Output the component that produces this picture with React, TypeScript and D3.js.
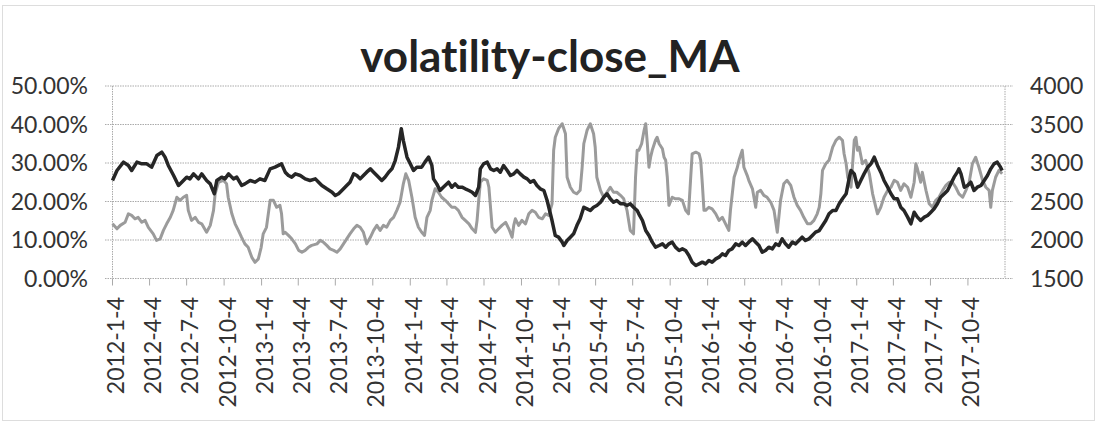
import * as d3 from "d3";

// quarter labels on the category axis
const xTickLabels = [
  "2012-1-4", "2012-4-4", "2012-7-4", "2012-10-4",
  "2013-1-4", "2013-4-4", "2013-7-4", "2013-10-4",
  "2014-1-4", "2014-4-4", "2014-7-4", "2014-10-4",
  "2015-1-4", "2015-4-4", "2015-7-4", "2015-10-4",
  "2016-1-4", "2016-4-4", "2016-7-4", "2016-10-4",
  "2017-1-4", "2017-4-4", "2017-7-4", "2017-10-4",
];
const leftTicks = [0, 10, 20, 30, 40, 50];
const rightTicks = [1500, 2000, 2500, 3000, 3500, 4000];

// volatility, in percent (left axis)
const volatility: [string, number][] = [
  ["2012-01-04", 14.2], ["2012-01-15", 12.9], ["2012-01-23", 13.8], ["2012-02-04", 14.6],
  ["2012-02-12", 16.8], ["2012-02-20", 16.4], ["2012-02-28", 15.5], ["2012-03-07", 15.9],
  ["2012-03-16", 14.6], ["2012-03-24", 15.1], ["2012-04-01", 13.3], ["2012-04-13", 11.6],
  ["2012-04-21", 9.9], ["2012-04-30", 10.3], ["2012-05-08", 12.5], ["2012-05-16", 14.2],
  ["2012-05-25", 15.9], ["2012-06-01", 17.7], ["2012-06-10", 21.1], ["2012-06-18", 20.3],
  ["2012-06-26", 21.1], ["2012-07-04", 21.6], ["2012-07-08", 17.7], ["2012-07-16", 15.1],
  ["2012-07-25", 15.9], ["2012-08-02", 14.6], ["2012-08-10", 14.2], ["2012-08-22", 12.0],
  ["2012-08-31", 13.8], ["2012-09-08", 17.7], ["2012-09-12", 22.0], ["2012-09-20", 25.0],
  ["2012-10-02", 25.5], ["2012-10-10", 24.6], ["2012-10-14", 21.1], ["2012-10-23", 16.8],
  ["2012-10-31", 14.2], ["2012-11-08", 12.5], ["2012-11-16", 10.7], ["2012-11-24", 9.0],
  ["2012-12-02", 8.1], ["2012-12-11", 5.5], ["2012-12-19", 4.2], ["2012-12-27", 5.1],
  ["2013-01-03", 8.1], ["2013-01-08", 11.6], ["2013-01-16", 13.3], ["2013-01-25", 20.3],
  ["2013-02-02", 20.3], ["2013-02-10", 18.5], ["2013-02-18", 19.0], ["2013-02-22", 16.8],
  ["2013-02-26", 11.6], ["2013-03-03", 12.0], ["2013-03-11", 11.2], ["2013-03-19", 10.3],
  ["2013-03-28", 9.0], ["2013-04-05", 7.3], ["2013-04-13", 6.8], ["2013-04-21", 7.3],
  ["2013-04-29", 8.1], ["2013-05-07", 8.6], ["2013-05-20", 9.0], ["2013-05-28", 9.9],
  ["2013-06-05", 9.4], ["2013-06-13", 8.6], ["2013-06-21", 7.7], ["2013-06-30", 7.3],
  ["2013-07-08", 6.8], ["2013-07-16", 7.7], ["2013-07-24", 9.0], ["2013-08-01", 10.3],
  ["2013-08-09", 11.6], ["2013-08-18", 12.9], ["2013-08-26", 13.8], ["2013-09-03", 13.3],
  ["2013-09-11", 12.0], ["2013-09-19", 9.0], ["2013-09-28", 10.7], ["2013-10-06", 12.5],
  ["2013-10-14", 13.8], ["2013-10-22", 12.5], ["2013-10-30", 13.8], ["2013-11-07", 13.3],
  ["2013-11-16", 15.1], ["2013-11-24", 15.9], ["2013-12-02", 17.7], ["2013-12-10", 19.8],
  ["2013-12-18", 24.6], ["2013-12-24", 27.2], ["2013-12-31", 25.5], ["2014-01-08", 21.1],
  ["2014-01-16", 15.9], ["2014-01-24", 13.3], ["2014-02-01", 12.0], ["2014-02-08", 11.2],
  ["2014-02-14", 15.9], ["2014-02-22", 17.7], ["2014-02-26", 20.3], ["2014-03-06", 23.3],
  ["2014-03-14", 22.4], ["2014-03-22", 21.1], ["2014-03-31", 20.3], ["2014-04-08", 19.4],
  ["2014-04-16", 18.5], ["2014-04-24", 18.5], ["2014-05-02", 17.7], ["2014-05-11", 15.9],
  ["2014-05-19", 15.1], ["2014-05-28", 14.2], ["2014-06-05", 12.9], ["2014-06-13", 12.0],
  ["2014-06-17", 15.1], ["2014-06-21", 20.3], ["2014-06-25", 25.0], ["2014-07-03", 25.9],
  ["2014-07-12", 25.5], ["2014-07-16", 23.7], ["2014-07-20", 18.5], ["2014-07-24", 13.3],
  ["2014-08-01", 12.0], ["2014-08-09", 12.9], ["2014-08-17", 13.8], ["2014-08-26", 14.6],
  ["2014-09-03", 12.9], ["2014-09-11", 10.7], ["2014-09-15", 13.8], ["2014-09-19", 15.5],
  ["2014-09-27", 13.8], ["2014-10-05", 15.1], ["2014-10-14", 14.2], ["2014-10-22", 16.8],
  ["2014-10-30", 17.7], ["2014-11-07", 17.2], ["2014-11-15", 15.9], ["2014-11-24", 15.5],
  ["2014-12-02", 16.8], ["2014-12-10", 16.4], ["2014-12-18", 19.4], ["2014-12-22", 33.3],
  ["2014-12-26", 36.7], ["2015-01-03", 38.9], ["2015-01-12", 40.2], ["2015-01-20", 37.6],
  ["2015-01-24", 26.3], ["2015-02-01", 23.7], ["2015-02-09", 22.4], ["2015-02-17", 22.0],
  ["2015-02-25", 22.9], ["2015-03-02", 28.9], ["2015-03-06", 35.0], ["2015-03-14", 38.5],
  ["2015-03-22", 40.2], ["2015-03-30", 37.6], ["2015-04-03", 34.1], ["2015-04-07", 26.3],
  ["2015-04-16", 22.9], ["2015-04-24", 21.1], ["2015-05-02", 22.4], ["2015-05-10", 23.7],
  ["2015-05-18", 22.4], ["2015-05-26", 22.4], ["2015-06-04", 21.6], ["2015-06-12", 20.7],
  ["2015-06-20", 17.7], ["2015-06-28", 12.5], ["2015-07-06", 11.6], ["2015-07-11", 26.3],
  ["2015-07-15", 33.3], ["2015-07-19", 33.3], ["2015-07-26", 35.0], ["2015-08-01", 38.5],
  ["2015-08-05", 40.2], ["2015-08-09", 35.0], ["2015-08-13", 28.9], ["2015-08-17", 31.5],
  ["2015-08-21", 33.3], ["2015-08-29", 35.9], ["2015-09-02", 36.7], ["2015-09-07", 35.0],
  ["2015-09-15", 33.7], ["2015-09-19", 31.5], ["2015-09-23", 30.7], ["2015-09-27", 26.3],
  ["2015-10-01", 19.0], ["2015-10-09", 21.1], ["2015-10-17", 20.7], ["2015-10-26", 20.7],
  ["2015-11-03", 20.3], ["2015-11-11", 17.7], ["2015-11-18", 16.8], ["2015-11-23", 25.5],
  ["2015-11-27", 32.4], ["2015-12-06", 32.8], ["2015-12-14", 32.4], ["2015-12-18", 30.7],
  ["2015-12-22", 24.6], ["2015-12-26", 17.7], ["2015-12-30", 17.7], ["2016-01-07", 18.5],
  ["2016-01-15", 18.1], ["2016-01-24", 16.8], ["2016-02-01", 15.1], ["2016-02-09", 15.9],
  ["2016-02-17", 14.2], ["2016-02-25", 12.5], ["2016-02-29", 17.7], ["2016-03-09", 26.3],
  ["2016-03-17", 28.9], ["2016-03-21", 30.7], ["2016-03-25", 32.0], ["2016-03-29", 33.3],
  ["2016-04-02", 28.9], ["2016-04-10", 26.8], ["2016-04-14", 25.5], ["2016-04-23", 23.3],
  ["2016-05-01", 18.5], ["2016-05-05", 22.4], ["2016-05-13", 22.9], ["2016-05-21", 21.6],
  ["2016-05-29", 21.1], ["2016-06-07", 19.8], ["2016-06-15", 17.7], ["2016-06-23", 12.0],
  ["2016-07-01", 20.3], ["2016-07-09", 24.6], ["2016-07-17", 25.5], ["2016-07-26", 24.2],
  ["2016-08-03", 21.1], ["2016-08-11", 19.0], ["2016-08-19", 17.7], ["2016-08-27", 15.9],
  ["2016-09-05", 14.2], ["2016-09-13", 14.2], ["2016-09-21", 15.1], ["2016-09-29", 16.8],
  ["2016-10-04", 18.5], ["2016-10-08", 22.0], ["2016-10-12", 28.1], ["2016-10-20", 29.8],
  ["2016-10-28", 30.7], ["2016-11-06", 34.1], ["2016-11-14", 35.9], ["2016-11-22", 36.7],
  ["2016-11-30", 35.9], ["2016-12-04", 32.4], ["2016-12-09", 29.8], ["2016-12-13", 26.3],
  ["2016-12-21", 23.7], ["2016-12-25", 29.8], ["2016-12-29", 35.9], ["2017-01-02", 36.7],
  ["2017-01-06", 33.3], ["2017-01-10", 34.1], ["2017-01-18", 29.8], ["2017-01-26", 30.7],
  ["2017-02-04", 27.2], ["2017-02-12", 22.0], ["2017-02-20", 18.5], ["2017-02-24", 16.8],
  ["2017-03-04", 18.5], ["2017-03-12", 21.1], ["2017-03-21", 22.9], ["2017-03-29", 23.7],
  ["2017-04-06", 25.5], ["2017-04-14", 25.0], ["2017-04-22", 22.9], ["2017-04-30", 24.6],
  ["2017-05-09", 23.7], ["2017-05-17", 21.1], ["2017-05-25", 25.0], ["2017-05-29", 29.8],
  ["2017-06-02", 28.5], ["2017-06-10", 25.0], ["2017-06-14", 27.6], ["2017-06-23", 22.9],
  ["2017-07-01", 19.4], ["2017-07-09", 18.5], ["2017-07-17", 20.3], ["2017-07-25", 21.1],
  ["2017-08-03", 22.9], ["2017-08-11", 24.2], ["2017-08-19", 25.0], ["2017-08-27", 25.0],
  ["2017-09-04", 23.7], ["2017-09-12", 22.0], ["2017-09-21", 21.1], ["2017-09-29", 22.9],
  ["2017-10-07", 25.0], ["2017-10-15", 29.8], ["2017-10-23", 31.5], ["2017-10-31", 28.9],
  ["2017-11-09", 25.5], ["2017-11-17", 23.7], ["2017-11-25", 22.9], ["2017-11-29", 18.5],
  ["2017-12-03", 22.9], ["2017-12-11", 26.3], ["2017-12-19", 28.1], ["2017-12-27", 27.2],
];

// close moving average (right axis)
const closeMA: [string, number][] = [
  ["2012-01-04", 2773], ["2012-01-15", 2903], ["2012-01-31", 3011], ["2012-02-12", 2968],
  ["2012-02-20", 2903], ["2012-03-04", 3011], ["2012-03-16", 2989], ["2012-03-28", 2989],
  ["2012-04-09", 2946], ["2012-04-22", 3097], ["2012-05-04", 3141], ["2012-05-12", 3076],
  ["2012-05-20", 2968], ["2012-06-02", 2838], ["2012-06-14", 2708], ["2012-06-22", 2751],
  ["2012-07-04", 2816], ["2012-07-12", 2794], ["2012-07-21", 2859], ["2012-08-02", 2794],
  ["2012-08-10", 2859], ["2012-08-22", 2773], ["2012-08-31", 2729], ["2012-09-10", 2600],
  ["2012-09-16", 2773], ["2012-09-28", 2816], ["2012-10-06", 2794], ["2012-10-15", 2859],
  ["2012-10-27", 2794], ["2012-11-04", 2816], ["2012-11-16", 2708], ["2012-11-24", 2729],
  ["2012-12-07", 2773], ["2012-12-19", 2751], ["2012-12-31", 2794], ["2013-01-12", 2773],
  ["2013-01-25", 2924], ["2013-02-06", 2946], ["2013-02-22", 2989], ["2013-03-03", 2881],
  ["2013-03-11", 2838], ["2013-03-19", 2816], ["2013-03-28", 2859], ["2013-04-09", 2838],
  ["2013-04-21", 2794], ["2013-05-03", 2773], ["2013-05-16", 2794], ["2013-05-24", 2751],
  ["2013-06-01", 2708], ["2013-06-13", 2665], ["2013-06-26", 2621], ["2013-07-04", 2578],
  ["2013-07-12", 2600], ["2013-07-20", 2643], ["2013-08-01", 2708], ["2013-08-09", 2751],
  ["2013-08-18", 2859], ["2013-08-26", 2838], ["2013-09-03", 2794], ["2013-09-11", 2838],
  ["2013-09-19", 2881], ["2013-09-28", 2924], ["2013-10-06", 2881], ["2013-10-14", 2838],
  ["2013-10-26", 2773], ["2013-11-03", 2816], ["2013-11-12", 2881], ["2013-11-20", 2924],
  ["2013-11-28", 3032], ["2013-12-06", 3206], ["2013-12-13", 3444], ["2013-12-18", 3292],
  ["2013-12-27", 3076], ["2014-01-04", 2989], ["2014-01-12", 2903], ["2014-01-20", 2946],
  ["2014-02-01", 2946], ["2014-02-09", 3011], ["2014-02-18", 3076], ["2014-02-26", 2968],
  ["2014-03-02", 2794], ["2014-03-10", 2729], ["2014-03-18", 2643], ["2014-03-26", 2686],
  ["2014-04-08", 2751], ["2014-04-16", 2686], ["2014-04-24", 2729], ["2014-05-02", 2686],
  ["2014-05-11", 2686], ["2014-05-19", 2665], ["2014-05-28", 2643], ["2014-06-05", 2621],
  ["2014-06-13", 2578], ["2014-06-21", 2686], ["2014-06-25", 2924], ["2014-07-03", 2989],
  ["2014-07-12", 3011], ["2014-07-20", 2924], ["2014-07-28", 2903], ["2014-08-05", 2924],
  ["2014-08-13", 2881], ["2014-08-21", 2968], ["2014-08-30", 2903], ["2014-09-07", 2838],
  ["2014-09-15", 2859], ["2014-09-23", 2903], ["2014-10-01", 2859], ["2014-10-10", 2816],
  ["2014-10-18", 2794], ["2014-10-26", 2751], ["2014-11-03", 2773], ["2014-11-11", 2708],
  ["2014-11-19", 2665], ["2014-11-28", 2643], ["2014-12-06", 2513], ["2014-12-12", 2383],
  ["2014-12-18", 2253], ["2014-12-26", 2058], ["2015-01-03", 2037], ["2015-01-12", 1972],
  ["2015-01-16", 1929], ["2015-01-24", 1994], ["2015-02-01", 2037], ["2015-02-09", 2080],
  ["2015-02-17", 2188], ["2015-02-25", 2275], ["2015-03-06", 2426], ["2015-03-14", 2405],
  ["2015-03-22", 2383], ["2015-03-30", 2426], ["2015-04-07", 2448], ["2015-04-16", 2491],
  ["2015-04-24", 2556], ["2015-05-02", 2600], ["2015-05-10", 2535], ["2015-05-18", 2491],
  ["2015-05-26", 2513], ["2015-06-04", 2470], ["2015-06-12", 2470], ["2015-06-20", 2448],
  ["2015-06-28", 2470], ["2015-07-06", 2426], ["2015-07-15", 2383], ["2015-07-19", 2340],
  ["2015-07-28", 2253], ["2015-08-05", 2123], ["2015-08-13", 2058], ["2015-08-21", 1972],
  ["2015-08-29", 1907], ["2015-09-07", 1929], ["2015-09-15", 1950], ["2015-09-23", 1907],
  ["2015-10-01", 1950], ["2015-10-09", 1972], ["2015-10-17", 1907], ["2015-10-26", 1864],
  ["2015-11-03", 1885], ["2015-11-11", 1864], ["2015-11-19", 1799], ["2015-11-27", 1712],
  ["2015-12-06", 1669], ["2015-12-14", 1690], ["2015-12-22", 1712], ["2015-12-30", 1690],
  ["2016-01-07", 1734], ["2016-01-15", 1712], ["2016-01-24", 1755], ["2016-02-01", 1777],
  ["2016-02-09", 1820], ["2016-02-17", 1799], ["2016-02-25", 1864], ["2016-03-04", 1885],
  ["2016-03-13", 1950], ["2016-03-21", 1929], ["2016-03-29", 1972], ["2016-04-06", 1929],
  ["2016-04-14", 1972], ["2016-04-23", 2015], ["2016-05-01", 1972], ["2016-05-09", 1929],
  ["2016-05-17", 1842], ["2016-05-25", 1864], ["2016-06-02", 1907], ["2016-06-11", 1885],
  ["2016-06-19", 1950], ["2016-06-27", 1929], ["2016-07-05", 2015], ["2016-07-13", 1950],
  ["2016-07-21", 1907], ["2016-07-30", 1972], ["2016-08-07", 1950], ["2016-08-15", 1994],
  ["2016-08-23", 2037], ["2016-08-31", 1994], ["2016-09-09", 2015], ["2016-09-17", 2058],
  ["2016-09-25", 2102], ["2016-10-04", 2123], ["2016-10-12", 2188], ["2016-10-20", 2253],
  ["2016-10-28", 2340], ["2016-11-06", 2383], ["2016-11-14", 2383], ["2016-11-22", 2470],
  ["2016-11-30", 2535], ["2016-12-09", 2600], ["2016-12-17", 2816], ["2016-12-21", 2903],
  ["2016-12-29", 2859], ["2017-01-06", 2686], ["2017-01-14", 2773], ["2017-01-22", 2859],
  ["2017-01-31", 2946], ["2017-02-08", 2989], ["2017-02-16", 3076], ["2017-02-24", 2968],
  ["2017-03-04", 2881], ["2017-03-12", 2773], ["2017-03-21", 2686], ["2017-03-29", 2600],
  ["2017-04-06", 2535], ["2017-04-14", 2535], ["2017-04-22", 2426], ["2017-04-30", 2383],
  ["2017-05-09", 2297], ["2017-05-17", 2210], ["2017-05-25", 2361], ["2017-06-02", 2297],
  ["2017-06-10", 2253], ["2017-06-19", 2297], ["2017-06-27", 2318], ["2017-07-05", 2361],
  ["2017-07-13", 2405], ["2017-07-21", 2470], ["2017-07-29", 2556], ["2017-08-07", 2600],
  ["2017-08-15", 2643], ["2017-08-23", 2729], ["2017-08-31", 2816], ["2017-09-08", 2881],
  ["2017-09-12", 2924], ["2017-09-17", 2859], ["2017-09-25", 2686], ["2017-10-03", 2708],
  ["2017-10-11", 2751], ["2017-10-19", 2643], ["2017-10-27", 2686], ["2017-11-05", 2708],
  ["2017-11-13", 2773], ["2017-11-21", 2838], ["2017-11-29", 2924], ["2017-12-07", 2989],
  ["2017-12-15", 3011], ["2017-12-23", 2946], ["2017-12-27", 2903],
];

const parseDay = (s: string) => {
  const [y, m, d] = s.split("-").map(Number);
  return new Date(y, m - 1, d);
};

const FONT = "Lato, 'Open Sans', sans-serif";

export default function App() {
  const width = 1097;
  const height = 424;
  const left = 112.5;
  const right = 1005;
  const top = 86;
  const bottom = 278.5;

  const x = d3
    .scaleTime()
    .domain([parseDay("2012-1-4"), parseDay("2018-1-3")])
    .range([left, right]);
  const yLeft = d3.scaleLinear().domain([0, 50]).range([bottom, top]);
  const yRight = d3.scaleLinear().domain([1500, 4000]).range([bottom, top]);

  const volLine = d3
    .line<[string, number]>()
    .x((d) => x(parseDay(d[0])))
    .y((d) => yLeft(d[1]));
  const closeLine = d3
    .line<[string, number]>()
    .x((d) => x(parseDay(d[0])))
    .y((d) => yRight(d[1]));

  return (
    <svg
      width={width}
      height={height}
      style={{ position: "absolute", left: 0, top: 0, background: "#fff", fontVariantLigatures: "none" }}
    >
      <rect x={2.5} y={5.5} width={1092} height={415} fill="#fff" stroke="#bbb" strokeDasharray="1 1" />

      <text x={550} y={72} textAnchor="middle" fontFamily={FONT} fontWeight="bold" fontSize={44} fill="#222">
        volatility-close_MA
      </text>

      {/* grid lines, extended past the plot as tick marks */}
      {leftTicks.map((t) => (
        <line key={t} x1={105} x2={1013} y1={yLeft(t)} y2={yLeft(t)} stroke="#aaa" strokeDasharray="1.5 1" />
      ))}
      <line x1={left} x2={left} y1={top} y2={bottom} stroke="#aaa" strokeDasharray="1.5 1" />
      <line x1={right} x2={right} y1={top} y2={bottom} stroke="#aaa" strokeDasharray="1.5 1" />

      {xTickLabels.map((lab) => {
        const tx = x(parseDay(lab));
        return (
          <g key={lab}>
            <line x1={tx} x2={tx} y1={bottom} y2={bottom + 7} stroke="#aaa" />
            <text
              transform={`translate(${tx + 11.5},297) rotate(-90)`}
              textAnchor="end"
              fontFamily={FONT}
              fontSize={23}
              fill="#333"
            >
              {lab}
            </text>
          </g>
        );
      })}

      {leftTicks.map((t) => (
        <text key={t} x={88} y={yLeft(t) + 8} textAnchor="end" fontFamily={FONT} fontSize={23} fill="#333">
          {`${t.toFixed(2)}%`}
        </text>
      ))}
      {rightTicks.map((t) => (
        <text key={t} x={1030} y={yRight(t) + 8} fontFamily={FONT} fontSize={23} fill="#333">
          {t}
        </text>
      ))}

      <path d={volLine(volatility) ?? ""} fill="none" stroke="#9b9b9b" strokeWidth={3} strokeLinejoin="round" />
      <path d={closeLine(closeMA) ?? ""} fill="none" stroke="#262626" strokeWidth={3.5} strokeLinejoin="round" />
    </svg>
  );
}
